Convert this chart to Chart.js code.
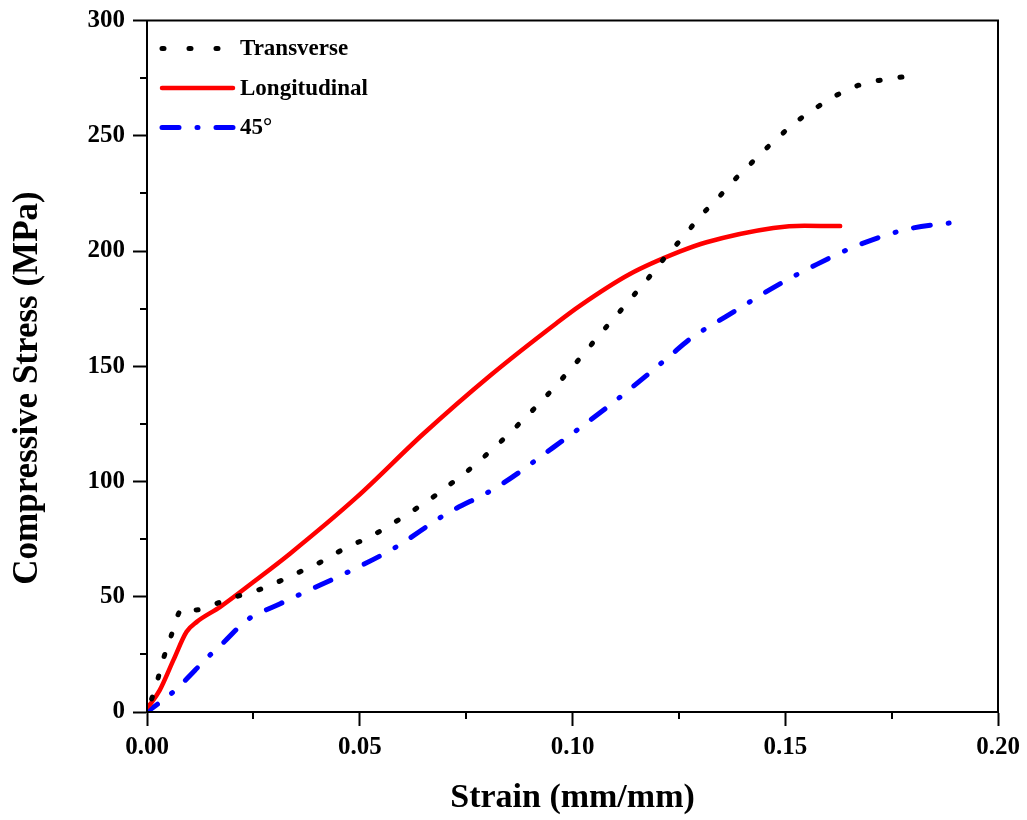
<!DOCTYPE html>
<html>
<head>
<meta charset="utf-8">
<script src="https://cdn.jsdelivr.net/npm/chart.js@4/dist/chart.umd.min.js"></script>
<style>
  html, body { margin: 0; padding: 0; background: #fff; }
  #wrap { width: 1027px; height: 820px; }
</style>
</head>
<body>
<div id="wrap"><canvas id="grafico" width="1027" height="820"></canvas></div>
<script>
// curva Transverse (punti neri)
const transverseStrain = [0, 0.0021, 0.0037, 0.0056, 0.0076, 0.0092, 0.0115, 0.017, 0.0219, 0.0264, 0.0316, 0.0367, 0.0412, 0.0465, 0.0526, 0.0573, 0.0622, 0.0669, 0.0712, 0.0755, 0.0798, 0.0844, 0.0884, 0.093, 0.0992, 0.1029, 0.1067, 0.1106, 0.1145, 0.1184, 0.1223, 0.126, 0.130, 0.1337, 0.1376, 0.1414, 0.1456, 0.150, 0.154, 0.158, 0.1625, 0.1674, 0.172, 0.1775];
const transverseStress = [0, 11.3, 22.2, 32.6, 43.4, 45.3, 44.3, 47.5, 50.6, 53.1, 57.1, 61.5, 65.4, 71, 76.2, 81.3, 87, 92.8, 98.7, 104.8, 111.7, 119.5, 126.8, 135.4, 148, 156, 164.4, 172.6, 181, 189.5, 198.5, 206, 215, 222, 230, 237, 244.6, 252, 258, 263, 268, 272, 274, 275.5];

// curva Longitudinal (linea rossa)
const longStrain = [0, 0.001, 0.003, 0.0062, 0.0093, 0.0117, 0.0172, 0.025, 0.0336, 0.0493, 0.0649, 0.0806, 0.0963, 0.1018, 0.1135, 0.1253, 0.1315, 0.1472, 0.1545, 0.1629];
const longStress = [2, 4, 9.5, 22.5, 34.8, 39.1, 45.6, 56.4, 68.7, 93.2, 120.6, 145.9, 168.8, 176.3, 190, 199.8, 203.8, 210, 211, 210.8];

// curva 45° (tratto-punto blu)
const diagStrain = [0, 0.0062, 0.0148, 0.0179, 0.0234, 0.0262, 0.0313, 0.0371, 0.0481, 0.0579, 0.0704, 0.0822, 0.0955, 0.1096, 0.1229, 0.1276, 0.137, 0.1472, 0.1574, 0.1667, 0.1785, 0.1892];
const diagStress = [0, 8.8, 24.7, 30, 39.8, 42.7, 47, 52, 61.5, 70.9, 86, 97.5, 114.8, 134.3, 154.5, 161.8, 172.6, 184.1, 194.2, 202.2, 209.4, 212.3];

const seriesLabels = ['Transverse', 'Longitudinal', '45°'];
const xMinorTicks = [0.025, 0.075, 0.125, 0.175];
const yMinorTicks = [25, 75, 125, 175, 225, 275];
const yTitle = 'Compressive Stress (MPa)';

const FONT = '"Liberation Serif", "Times New Roman", serif';

function punti(xs, ys) {
    return xs.map((x, i) => ({ x: x, y: ys[i] }));
}

// cornice, tacche minori, titolo asse y e legenda
const extras = {
    id: 'extras',
    afterDraw(chart) {
        const { ctx, chartArea: a, scales } = chart;
        ctx.save();
        ctx.strokeStyle = '#000';
        ctx.lineWidth = 2;
        ctx.setLineDash([]);
        ctx.strokeRect(a.left, a.top, a.right - a.left, a.bottom - a.top);

        ctx.beginPath();
        xMinorTicks.forEach(v => {
            const px = Math.round(scales.x.getPixelForValue(v));
            ctx.moveTo(px, a.bottom);
            ctx.lineTo(px, a.bottom + 7);
        });
        yMinorTicks.forEach(v => {
            const py = Math.round(scales.y.getPixelForValue(v));
            ctx.moveTo(a.left, py);
            ctx.lineTo(a.left - 7, py);
        });
        ctx.stroke();

        // titolo asse y (un po' spostato in basso come nell'originale)
        ctx.save();
        ctx.translate(28, 388);
        ctx.rotate(-Math.PI / 2);
        ctx.fillStyle = '#000';
        ctx.font = 'bold 35px ' + FONT;
        ctx.textAlign = 'center';
        ctx.textBaseline = 'middle';
        ctx.fillText(yTitle, 0, 0);
        ctx.restore();

        // legenda
        const legendDash = [[2, 25], [], [17, 18, 1, 18]];
        chart.data.datasets.forEach((ds, i) => {
            const yy = a.top + 28 + i * 39.5;
            ctx.beginPath();
            ctx.strokeStyle = ds.borderColor;
            ctx.lineWidth = ds.borderWidth;
            ctx.lineCap = ds.borderCapStyle || 'butt';
            ctx.setLineDash(legendDash[i]);
            ctx.moveTo(a.left + 15, yy);
            ctx.lineTo(a.left + 86, yy);
            ctx.stroke();
            ctx.setLineDash([]);
            ctx.fillStyle = '#000';
            ctx.font = 'bold 23px ' + FONT;
            ctx.textBaseline = 'middle';
            ctx.textAlign = 'left';
            ctx.fillText(ds.label, a.left + 93, yy + 1);
        });
        ctx.restore();
    }
};

const assiComuni = {
    type: 'linear',
    grid: {
        drawOnChartArea: false,
        drawTicks: true,
        tickLength: 14,
        tickColor: '#000',
        tickWidth: 2
    },
    border: { color: '#000', width: 2 }
};

new Chart(document.getElementById('grafico'), {
    type: 'line',
    data: {
        datasets: [
            {
                label: seriesLabels[0],
                data: punti(transverseStrain, transverseStress),
                borderColor: '#000000',
                borderWidth: 5,
                borderDash: [2, 20],
                borderDashOffset: 8,
                borderCapStyle: 'round',
                pointRadius: 0,
                fill: false,
                cubicInterpolationMode: 'monotone'
            },
            {
                label: seriesLabels[1],
                data: punti(longStrain, longStress),
                borderColor: '#ff0000',
                borderWidth: 4.5,
                borderCapStyle: 'round',
                pointRadius: 0,
                fill: false,
                cubicInterpolationMode: 'monotone'
            },
            {
                label: seriesLabels[2],
                data: punti(diagStrain, diagStress),
                borderColor: '#0000ff',
                borderWidth: 5,
                borderDash: [17, 18, 1, 18],
                borderDashOffset: 4,
                borderCapStyle: 'round',
                pointRadius: 0,
                fill: false,
                cubicInterpolationMode: 'monotone'
            }
        ]
    },
    options: {
        responsive: false,
        animation: false,
        events: [],
        layout: { padding: { left: 0, right: 29, top: 19, bottom: 0 } },
        plugins: {
            legend: { display: false },
            tooltip: { enabled: false }
        },
        scales: {
            x: {
                ...assiComuni,
                min: 0,
                max: 0.2,
                afterFit: s => { s.height = 108; },
                ticks: {
                    stepSize: 0.05,
                    color: '#000',
                    padding: 7,
                    maxRotation: 0,
                    font: { family: FONT, size: 25, weight: 'bold' },
                    callback: v => v.toFixed(2)
                },
                title: {
                    display: true,
                    text: 'Strain (mm/mm)',
                    color: '#000',
                    font: { family: FONT, size: 34, weight: 'bold' },
                    padding: { top: 1, bottom: 1 }
                }
            },
            y: {
                ...assiComuni,
                min: 0,
                max: 300,
                afterFit: s => { s.width = 147; },
                ticks: {
                    stepSize: 50,
                    color: '#000',
                    padding: 8,
                    font: { family: FONT, size: 25, weight: 'bold', lineHeight: 1 }
                },
                title: { display: false }
            }
        }
    },
    plugins: [extras]
});
</script>
</body>
</html>
